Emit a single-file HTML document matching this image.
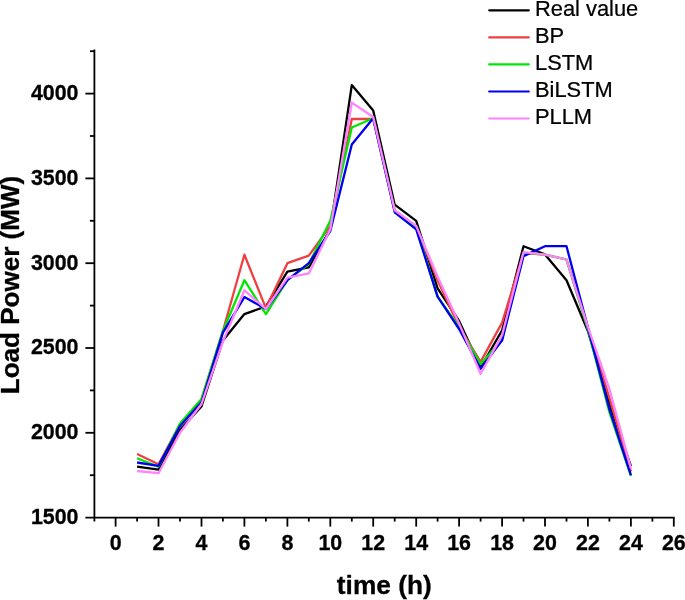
<!DOCTYPE html>
<html><head><meta charset="utf-8"><title>chart</title>
<style>
html,body{margin:0;padding:0;background:#fff;}
body{width:685px;height:600px;overflow:hidden;font-family:"Liberation Sans",sans-serif;}
svg{display:block;filter:blur(0.4px);}
text{font-family:"Liberation Sans",sans-serif;fill:#000;}
.tk{font-size:21.4px;font-weight:bold;stroke:#000;stroke-width:0.3px;}
.lg{font-size:22.3px;stroke:#000;stroke-width:0.25px;}
.ax{font-size:26.2px;font-weight:bold;stroke:#000;stroke-width:0.3px;}
</style></head><body>
<svg width="685" height="600" viewBox="0 0 685 600">
<rect width="685" height="600" fill="#fff"/>

<g fill="none" stroke-width="2.3" stroke-linejoin="round" stroke-linecap="butt">
<polyline stroke="#000000" points="137.1,466.7 158.5,469.6 180.0,429.7 201.5,406.5 222.9,340.4 244.4,314.1 265.9,306.4 287.4,271.7 308.8,267.4 330.3,229.3 351.8,85.1 373.2,110.6 394.7,204.7 416.2,220.8 437.6,288.3 459.1,320.9 480.6,367.5 502.1,330.2 523.5,246.2 545.0,254.4 566.5,280.2 587.9,331.0 609.4,403.6 630.9,466.2"/>
<polyline stroke="#ee4042" points="137.1,454.0 158.5,464.2 180.0,424.3 201.5,399.7 222.9,331.0 244.4,254.7 265.9,308.1 287.4,263.2 308.8,255.6 330.3,225.9 351.8,119.0 373.2,119.0 394.7,210.6 416.2,226.7 437.6,280.2 459.1,326.8 480.6,361.9 502.1,322.6 523.5,253.0 545.0,254.7 566.5,259.5 587.9,327.6 609.4,398.0 630.9,471.5"/>
<polyline stroke="#00e600" points="137.1,458.2 158.5,466.7 180.0,423.5 201.5,398.9 222.9,331.0 244.4,280.2 265.9,314.1 287.4,280.2 308.8,264.0 330.3,220.8 351.8,127.5 373.2,118.2 394.7,210.6 416.2,227.6 437.6,296.6 459.1,326.8 480.6,364.1 502.1,339.9 523.5,252.7 545.0,254.7 566.5,259.5 587.9,329.3 609.4,412.1 630.9,476.0"/>
<polyline stroke="#0000f0" points="137.1,462.5 158.5,465.9 180.0,426.0 201.5,402.3 222.9,332.7 244.4,297.1 265.9,309.0 287.4,280.2 308.8,263.2 330.3,231.0 351.8,144.5 373.2,118.2 394.7,212.3 416.2,229.3 437.6,296.6 459.1,329.0 480.6,368.7 502.1,340.4 523.5,256.1 545.0,246.2 566.5,246.2 587.9,327.6 609.4,409.1 630.9,475.2"/>
<polyline stroke="#ff82ff" points="137.1,471.0 158.5,473.2 180.0,432.8 201.5,404.0 222.9,341.6 244.4,290.3 265.9,309.0 287.4,277.6 308.8,273.4 330.3,229.3 351.8,102.6 373.2,117.0 394.7,210.3 416.2,225.9 437.6,276.8 459.1,323.4 480.6,373.8 502.1,335.1 523.5,252.2 545.0,254.7 566.5,259.5 587.9,326.8 609.4,389.0 630.9,468.4"/>
</g>
<g stroke="#000" stroke-width="1.8" fill="none">
<path d="M94.4 49.6 V521.6"/>
<path d="M85.4 517.6 H674.6"/>
<path d="M89.9 475.2 H94.4"/>
<path d="M85.4 432.8 H94.4"/>
<path d="M89.9 390.4 H94.4"/>
<path d="M85.4 348.0 H94.4"/>
<path d="M89.9 305.6 H94.4"/>
<path d="M85.4 263.2 H94.4"/>
<path d="M89.9 220.8 H94.4"/>
<path d="M85.4 178.4 H94.4"/>
<path d="M89.9 136.0 H94.4"/>
<path d="M85.4 93.6 H94.4"/>
<path d="M89.9 51.2 H94.4"/>
<path d="M115.6 517.6 V526.6"/>
<path d="M137.1 517.6 V521.6"/>
<path d="M158.5 517.6 V526.6"/>
<path d="M180.0 517.6 V521.6"/>
<path d="M201.5 517.6 V526.6"/>
<path d="M222.9 517.6 V521.6"/>
<path d="M244.4 517.6 V526.6"/>
<path d="M265.9 517.6 V521.6"/>
<path d="M287.4 517.6 V526.6"/>
<path d="M308.8 517.6 V521.6"/>
<path d="M330.3 517.6 V526.6"/>
<path d="M351.8 517.6 V521.6"/>
<path d="M373.2 517.6 V526.6"/>
<path d="M394.7 517.6 V521.6"/>
<path d="M416.2 517.6 V526.6"/>
<path d="M437.6 517.6 V521.6"/>
<path d="M459.1 517.6 V526.6"/>
<path d="M480.6 517.6 V521.6"/>
<path d="M502.1 517.6 V526.6"/>
<path d="M523.5 517.6 V521.6"/>
<path d="M545.0 517.6 V526.6"/>
<path d="M566.5 517.6 V521.6"/>
<path d="M587.9 517.6 V526.6"/>
<path d="M609.4 517.6 V521.6"/>
<path d="M630.9 517.6 V526.6"/>
<path d="M652.4 517.6 V521.6"/>
<path d="M673.8 517.6 V526.6"/>
</g>
<text class="tk" x="78.5" y="524.0" text-anchor="end">1500</text>
<text class="tk" x="78.5" y="439.2" text-anchor="end">2000</text>
<text class="tk" x="78.5" y="354.4" text-anchor="end">2500</text>
<text class="tk" x="78.5" y="269.6" text-anchor="end">3000</text>
<text class="tk" x="78.5" y="184.8" text-anchor="end">3500</text>
<text class="tk" x="78.5" y="100.0" text-anchor="end">4000</text>
<text class="tk" x="115.6" y="550.1" text-anchor="middle">0</text>
<text class="tk" x="158.5" y="550.1" text-anchor="middle">2</text>
<text class="tk" x="201.5" y="550.1" text-anchor="middle">4</text>
<text class="tk" x="244.4" y="550.1" text-anchor="middle">6</text>
<text class="tk" x="287.4" y="550.1" text-anchor="middle">8</text>
<text class="tk" x="330.3" y="550.1" text-anchor="middle">10</text>
<text class="tk" x="373.2" y="550.1" text-anchor="middle">12</text>
<text class="tk" x="416.2" y="550.1" text-anchor="middle">14</text>
<text class="tk" x="459.1" y="550.1" text-anchor="middle">16</text>
<text class="tk" x="502.1" y="550.1" text-anchor="middle">18</text>
<text class="tk" x="545.0" y="550.1" text-anchor="middle">20</text>
<text class="tk" x="587.9" y="550.1" text-anchor="middle">22</text>
<text class="tk" x="630.9" y="550.1" text-anchor="middle">24</text>
<text class="tk" x="673.8" y="550.1" text-anchor="middle">26</text>
<text class="ax" style="font-size:26.3px" x="384.3" y="593.5" text-anchor="middle">time (h)</text>
<text class="ax" style="font-size:26.05px" transform="translate(19.4,285) rotate(-90)" text-anchor="middle">Load Power (MW)</text>
<path d="M489.2 10.3 H528.8" stroke="#000000" stroke-width="2.2" stroke-linecap="round" fill="none"/>
<text class="lg" transform="translate(535,16.0) scale(0.98,1)">Real value</text>
<path d="M489.2 37.4 H528.8" stroke="#ee4042" stroke-width="2.2" stroke-linecap="round" fill="none"/>
<text class="lg" transform="translate(535,43.1) scale(0.98,1)">BP</text>
<path d="M489.2 64.4 H528.8" stroke="#00e600" stroke-width="2.2" stroke-linecap="round" fill="none"/>
<text class="lg" transform="translate(535,70.1) scale(0.98,1)">LSTM</text>
<path d="M489.2 91.5 H528.8" stroke="#0000f0" stroke-width="2.2" stroke-linecap="round" fill="none"/>
<text class="lg" transform="translate(535,97.2) scale(0.98,1)">BiLSTM</text>
<path d="M489.2 118.5 H528.8" stroke="#ff82ff" stroke-width="2.2" stroke-linecap="round" fill="none"/>
<text class="lg" transform="translate(535,124.2) scale(0.98,1)">PLLM</text>
</svg></body></html>
